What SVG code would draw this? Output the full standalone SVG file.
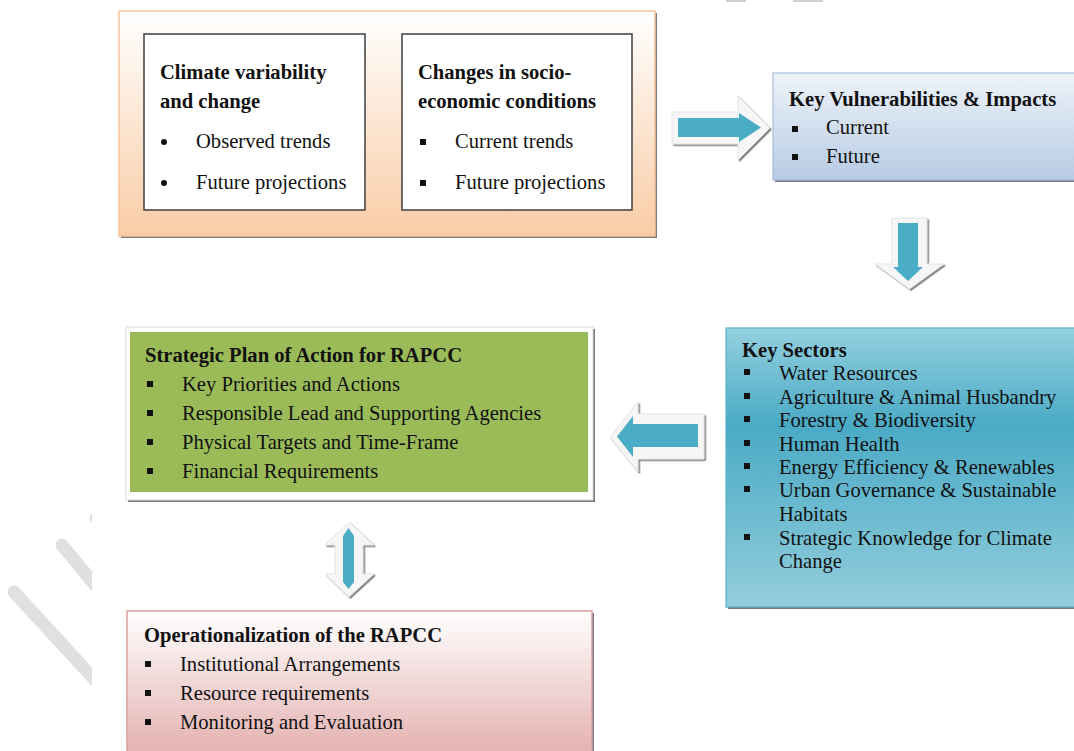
<svg xmlns="http://www.w3.org/2000/svg" width="1074" height="751" viewBox="0 0 1074 751">
<defs>
<linearGradient id="gOrange" x1="0" y1="0" x2="0" y2="1"><stop offset="0" stop-color="#ffffff"/><stop offset="1" stop-color="#f9cca6"/></linearGradient>
<linearGradient id="gBlue" x1="0" y1="0" x2="0" y2="1"><stop offset="0" stop-color="#eef3f9"/><stop offset="1" stop-color="#b7cbe4"/></linearGradient>
<linearGradient id="gTeal" x1="0" y1="0" x2="0" y2="1"><stop offset="0" stop-color="#94d0df"/><stop offset="0.35" stop-color="#4aaac5"/><stop offset="1" stop-color="#93cddc"/></linearGradient>
<linearGradient id="gRed" x1="0" y1="0" x2="0" y2="1"><stop offset="0" stop-color="#ffffff"/><stop offset="1" stop-color="#e3b0af"/></linearGradient>
<filter id="sh" x="-20%" y="-20%" width="140%" height="140%"><feDropShadow dx="1.5" dy="1.5" stdDeviation="0.7" flood-color="#555" flood-opacity="0.75"/></filter>
<clipPath id="wmClip"><rect x="0" y="480" width="92" height="271"/></clipPath>
</defs>
<style>
.t{font-family:'Liberation Serif','DejaVu Serif',serif;font-size:20.6px;fill:#111}
.b{font-weight:bold}
.shadow{fill:#7a7a7a}
.outer{fill:#f6f6f6;stroke:#e2e2e2;stroke-width:1}
.teal{fill:#4bacc6}
.wm{stroke:#e0e0e0;stroke-width:13;stroke-linecap:round;fill:none}
</style>
<rect width="1074" height="751" fill="#ffffff"/>
<g clip-path="url(#wmClip)">
<line class="wm" x1="62" y1="545" x2="130" y2="628"/>
<line class="wm" x1="14" y1="592" x2="130" y2="718"/>
<line class="wm" x1="96" y1="518" x2="130" y2="555"/>
</g>
<rect x="726" y="0" width="20" height="2" fill="#d0d0d0"/>
<rect x="793" y="0" width="30" height="2" fill="#d0d0d0"/>

<g id="node-drivers" class="t" font-family="Liberation Serif, DejaVu Serif, serif">
<rect class="shadow" x="121" y="13" width="536" height="225"/>
<rect x="119" y="11" width="536" height="225" fill="url(#gOrange)" stroke="#f8c49c" stroke-width="1.5"/>
<rect x="144" y="34" width="221" height="176" fill="#ffffff" stroke="#4a4a4a" stroke-width="1.6"/>
<rect x="402" y="34" width="230" height="176" fill="#ffffff" stroke="#4a4a4a" stroke-width="1.6"/>
<text class="t b" x="160" y="79">Climate variability</text>
<text class="t b" x="160" y="108">and change</text>
<circle cx="164" cy="142" r="3" fill="#111"/>
<text class="t" x="196" y="148">Observed trends</text>
<circle cx="164" cy="183" r="3" fill="#111"/>
<text class="t" x="196" y="189">Future projections</text>
<text class="t b" x="418" y="79">Changes in socio-</text>
<text class="t b" x="418" y="108">economic conditions</text>
<rect x="420" y="139" width="6" height="6" fill="#111"/>
<text class="t" x="455" y="148">Current trends</text>
<rect x="420" y="180" width="6" height="6" fill="#111"/>
<text class="t" x="455" y="189">Future projections</text>
</g>

<g id="node-vulnerabilities" font-family="Liberation Serif, DejaVu Serif, serif">
<rect class="shadow" x="775" y="75" width="310" height="107"/>
<rect x="773" y="73" width="310" height="107" fill="url(#gBlue)" stroke="#a6bfdd" stroke-width="1.2"/>
<text class="t b" x="789" y="106">Key Vulnerabilities &amp; Impacts</text>
<rect x="792" y="126" width="6" height="6" fill="#111"/>
<text class="t" x="826" y="134">Current</text>
<rect x="792" y="154" width="6" height="6" fill="#111"/>
<text class="t" x="826" y="163">Future</text>
</g>

<g id="node-sectors" font-family="Liberation Serif, DejaVu Serif, serif">
<rect class="shadow" x="728" y="330" width="360" height="279"/>
<rect x="726" y="328" width="360" height="279" fill="url(#gTeal)" stroke="#5bb3cb" stroke-width="1.2"/>
<text class="t b" x="742" y="357">Key Sectors</text>
<rect x="744" y="369" width="6" height="6" fill="#111"/>
<text class="t" x="779" y="380">Water Resources</text>
<rect x="744" y="393" width="6" height="6" fill="#111"/>
<text class="t" x="779" y="404">Agriculture &amp; Animal Husbandry</text>
<rect x="744" y="416" width="6" height="6" fill="#111"/>
<text class="t" x="779" y="427">Forestry &amp; Biodiversity</text>
<rect x="744" y="440" width="6" height="6" fill="#111"/>
<text class="t" x="779" y="451">Human Health</text>
<rect x="744" y="463" width="6" height="6" fill="#111"/>
<text class="t" x="779" y="474">Energy Efficiency &amp; Renewables</text>
<rect x="744" y="486" width="6" height="6" fill="#111"/>
<text class="t" x="779" y="497">Urban Governance &amp; Sustainable</text>
<text class="t" x="779" y="521">Habitats</text>
<rect x="744" y="534" width="6" height="6" fill="#111"/>
<text class="t" x="779" y="545">Strategic Knowledge for Climate</text>
<text class="t" x="779" y="568">Change</text>
</g>

<g id="node-strategic" font-family="Liberation Serif, DejaVu Serif, serif">
<rect class="shadow" x="128" y="329" width="467" height="173"/>
<rect x="126" y="327" width="467" height="173" fill="#ffffff" stroke="#dcdcdc" stroke-width="1"/>
<rect x="130" y="332" width="458" height="160" fill="#9bbb59"/>
<text class="t b" x="145" y="362">Strategic Plan of Action for RAPCC</text>
<rect x="147" y="381" width="6" height="6" fill="#111"/>
<text class="t" x="182" y="391">Key Priorities and Actions</text>
<rect x="147" y="410" width="6" height="6" fill="#111"/>
<text class="t" x="182" y="420">Responsible Lead and Supporting Agencies</text>
<rect x="147" y="439" width="6" height="6" fill="#111"/>
<text class="t" x="182" y="449">Physical Targets and Time-Frame</text>
<rect x="147" y="468" width="6" height="6" fill="#111"/>
<text class="t" x="182" y="478">Financial Requirements</text>
</g>

<g id="node-operationalization" font-family="Liberation Serif, DejaVu Serif, serif">
<rect class="shadow" x="129" y="613" width="465" height="145"/>
<rect x="127" y="611" width="465" height="145" fill="url(#gRed)" stroke="#dc9f9d" stroke-width="1.5"/>
<text class="t b" x="144" y="642">Operationalization of the RAPCC</text>
<rect x="145" y="661" width="6" height="6" fill="#111"/>
<text class="t" x="180" y="671">Institutional Arrangements</text>
<rect x="145" y="690" width="6" height="6" fill="#111"/>
<text class="t" x="180" y="700">Resource requirements</text>
<rect x="145" y="719" width="6" height="6" fill="#111"/>
<text class="t" x="180" y="729">Monitoring and Evaluation</text>
</g>

<g id="connectors">
<g id="arrow-drivers-vulnerabilities">
<polygon class="outer" filter="url(#sh)" points="672,112 738,112 738,96 770,128 738,160 738,144 672,144"/>
<polygon class="teal" points="678,118 739,118 739,113 761,127.5 739,142 739,137 678,137"/>
</g>
<g id="arrow-vulnerabilities-sectors">
<polygon class="outer" filter="url(#sh)" points="892,218 927,218 927,264 944,264 909.5,289 875,264 892,264"/>
<polygon class="teal" points="898,223 918,223 918,267 923,267 908,281 893,267 898,267"/>
</g>
<g id="arrow-sectors-strategic">
<polygon class="outer" filter="url(#sh)" points="610,437 638,402 638,414 704,414 704,459 638,459 638,472"/>
<polygon class="teal" points="617,436.5 633,416 633,424 698,424 698,447 633,447 633,457"/>
</g>
<g id="arrow-strategic-operationalization">
<polygon class="outer" filter="url(#sh)" points="349,522 374,545 363,545 363,574 374,574 349,597 325,574 335,574 335,545 325,545"/>
<polygon class="teal" points="348.5,528 354,536 354,582 348.5,589 343,582 343,536"/>
</g>
</g>
</svg>
